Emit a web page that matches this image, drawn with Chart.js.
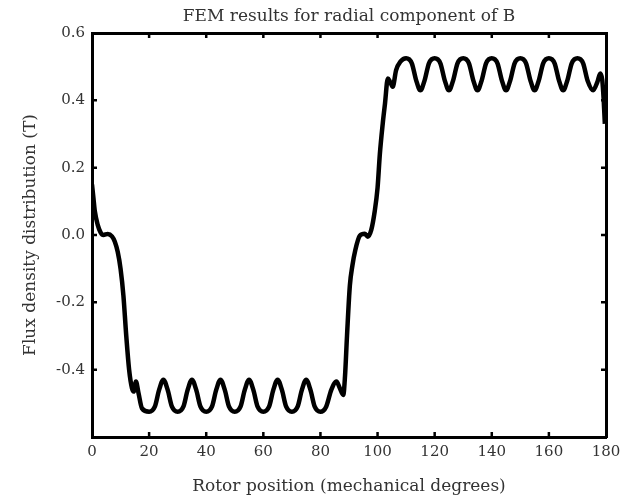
<!DOCTYPE html>
<html>
<head>
<meta charset="utf-8">
<script src="https://cdn.jsdelivr.net/npm/chart.js@4"></script>
<style>
  html, body { margin: 0; padding: 0; background: #fff; }
  #wrap { width: 628px; height: 503px; }
</style>
</head>
<body>
<div id="wrap"><canvas id="fluxChart" width="628" height="503"></canvas></div>
<script>
// rotor position (mechanical degrees)
var rotorPos = [
  0, 0.5, 1, 2, 3, 4, 5.5, 7, 8, 9, 10, 11, 12, 13, 14, 14.6, 15.4, 16.3, 17.5,
  20, 22, 23.5, 25, 26.5, 28, 30, 32, 33.5, 35, 36.5, 38, 40, 42, 43.5, 45, 46.5, 48,
  50, 52, 53.5, 55, 56.5, 58, 60, 62, 63.5, 65, 66.5, 68, 70, 72, 73.5, 75, 76.5, 78,
  80, 82, 83.8, 85.6, 86.8, 88, 88.6, 89.3, 90.3, 91.2, 92.2, 93.8, 95.5, 96.6, 97.8,
  99, 100, 100.8, 101.8, 102.6, 103.6, 104.4, 105.3, 106.5, 108,
  110, 112, 113.5, 115, 116.5, 118, 120, 122, 123.5, 125, 126.5, 128,
  130, 132, 133.5, 135, 136.5, 138, 140, 142, 143.5, 145, 146.5, 148,
  150, 152, 153.5, 155, 156.5, 158, 160, 162, 163.5, 165, 166.5, 168,
  170, 172, 173.5, 175.5, 177, 178, 178.7, 179.2, 179.6
];
// radial flux density (T)
var fluxB = [
  0.15, 0.11, 0.07, 0.03, 0.008, 0.0, 0.003, -0.004, -0.02, -0.05, -0.10, -0.18, -0.30, -0.40, -0.455, -0.465, -0.435, -0.47, -0.515,
  -0.525, -0.51, -0.46, -0.43, -0.46, -0.51, -0.525, -0.51, -0.46, -0.43, -0.46, -0.51, -0.525, -0.51, -0.46, -0.43, -0.46, -0.51,
  -0.525, -0.51, -0.46, -0.43, -0.46, -0.51, -0.525, -0.51, -0.46, -0.43, -0.46, -0.51, -0.525, -0.51, -0.46, -0.43, -0.46, -0.51,
  -0.525, -0.51, -0.46, -0.435, -0.455, -0.475, -0.42, -0.30, -0.15, -0.09, -0.045, -0.002, 0.004, -0.005, 0.015,
  0.07, 0.14, 0.24, 0.33, 0.39, 0.465, 0.455, 0.44, 0.49, 0.515,
  0.525, 0.51, 0.46, 0.43, 0.46, 0.51, 0.525, 0.51, 0.46, 0.43, 0.46, 0.51,
  0.525, 0.51, 0.46, 0.43, 0.46, 0.51, 0.525, 0.51, 0.46, 0.43, 0.46, 0.51,
  0.525, 0.51, 0.46, 0.43, 0.46, 0.51, 0.525, 0.51, 0.46, 0.43, 0.46, 0.51,
  0.525, 0.51, 0.46, 0.43, 0.455, 0.48, 0.46, 0.40, 0.33
];
var xTicks = [0, 20, 40, 60, 80, 100, 120, 140, 160, 180];
var yTickLabels = ['-0.4', '-0.2', '0.0', '0.2', '0.4', '0.6'];

var serif = 'DejaVu Serif';
var textColor = '#333';

var points = rotorPos.map(function (x, i) { return {x: x, y: fluxB[i]}; });

// small inward tick marks on all four sides of the box
var innerTicks = {
  id: 'innerTicks',
  afterDraw: function (chart) {
    var ctx = chart.ctx, a = chart.chartArea;
    var sx = chart.scales.x, sy = chart.scales.y;
    ctx.save();
    ctx.strokeStyle = '#000';
    ctx.lineWidth = 2.5;
    ctx.beginPath();
    sx.ticks.forEach(function (t) {
      if (t.value <= 0 || t.value >= 180) return;
      var px = sx.getPixelForValue(t.value);
      ctx.moveTo(px, a.bottom); ctx.lineTo(px, a.bottom - 5);
      ctx.moveTo(px, a.top); ctx.lineTo(px, a.top + 5);
    });
    sy.ticks.forEach(function (t) {
      if (t.value <= -0.59 || t.value >= 0.59) return;
      var py = sy.getPixelForValue(t.value);
      ctx.moveTo(a.left, py); ctx.lineTo(a.left + 5, py);
      ctx.moveTo(a.right, py); ctx.lineTo(a.right - 5, py);
    });
    ctx.stroke();
    ctx.restore();
  }
};

new Chart(document.getElementById('fluxChart'), {
  type: 'line',
  data: {
    datasets: [{
      data: points,
      borderColor: '#000',
      borderWidth: 4.5,
      pointRadius: 0,
      fill: false,
      cubicInterpolationMode: 'monotone'
    }]
  },
  options: {
    responsive: false,
    devicePixelRatio: 1,
    animation: false,
    layout: { padding: { left: 0, right: 22, top: 0, bottom: 0 } },
    plugins: {
      legend: { display: false },
      tooltip: { enabled: false },
      title: {
        display: true,
        fullSize: false,
        text: 'FEM results for radial component of B',
        color: textColor,
        font: { family: serif, size: 17, weight: 'normal', lineHeight: 1.2 },
        padding: { top: 6, bottom: 6.6 }
      }
    },
    scales: {
      x: {
        type: 'linear',
        position: 'bottom',
        min: 0,
        max: 180,
        afterBuildTicks: function (s) { s.ticks = xTicks.map(function (v) { return {value: v}; }); },
        ticks: { color: textColor, font: { family: serif, size: 15 }, padding: 6, maxRotation: 0 },
        grid: { drawOnChartArea: false, drawTicks: false },
        border: { display: true, color: '#000', width: 3 },
        title: {
          display: true,
          text: 'Rotor position (mechanical degrees)',
          color: textColor,
          font: { family: serif, size: 17 },
          padding: { top: 0, bottom: 6 }
        },
        afterFit: function (s) { s.height = 66; }
      },
      xTop: {
        type: 'linear',
        position: 'top',
        min: 0,
        max: 180,
        ticks: { display: false },
        grid: { drawOnChartArea: false, drawTicks: false },
        border: { display: true, color: '#000', width: 3 },
        afterFit: function (s) { s.height = 0; }
      },
      y: {
        type: 'linear',
        position: 'left',
        min: -0.6,
        max: 0.6,
        afterBuildTicks: function (s) {
          s.ticks = [-0.6].concat(yTickLabels.map(Number)).map(function (v) { return {value: v}; });
        },
        ticks: {
          color: textColor,
          font: { family: serif, size: 15 },
          padding: 7,
          callback: function (v) {
            var i = yTickLabels.map(Number).indexOf(v);
            return i < 0 ? '' : yTickLabels[i];
          }
        },
        grid: { drawOnChartArea: false, drawTicks: false },
        border: { display: true, color: '#000', width: 3 },
        title: {
          display: true,
          text: 'Flux density distribution (T)',
          color: textColor,
          font: { family: serif, size: 17 },
          padding: { top: 20, bottom: 0 }
        },
        afterFit: function (s) { s.width = 92; }
      },
      yRight: {
        type: 'linear',
        position: 'right',
        min: -0.6,
        max: 0.6,
        ticks: { display: false },
        grid: { drawOnChartArea: false, drawTicks: false },
        border: { display: true, color: '#000', width: 3 },
        afterFit: function (s) { s.width = 0; }
      }
    }
  },
  plugins: [innerTicks]
});
</script>
</body>
</html>
